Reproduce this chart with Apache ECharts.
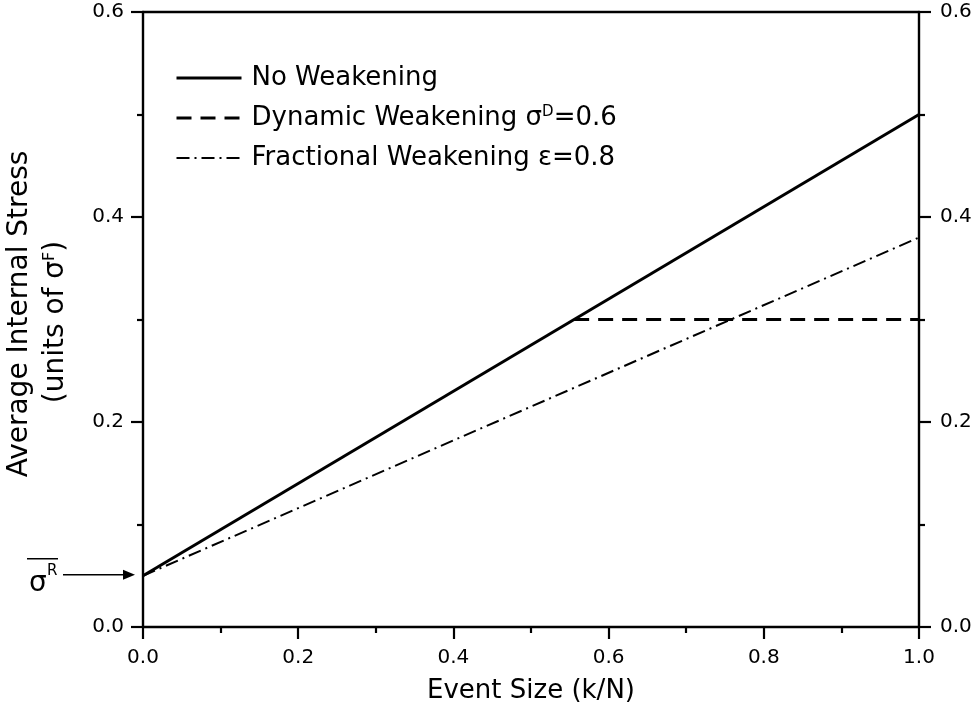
<!DOCTYPE html>
<html>
<head>
<meta charset="utf-8">
<script src="https://cdn.jsdelivr.net/npm/echarts@6/dist/echarts.min.js"></script>
<style>html,body{margin:0;padding:0;background:#fff}#c{width:975px;height:719px}</style>
</head>
<body>
<div id="c"></div>
<script>
// ---- data ----
var seriesNames = ['No Weakening', 'Dynamic Weakening', 'Fractional Weakening'];
var noWeakX = [0, 1.0];
var noWeakY = [0.05, 0.50];
var dynX = [0.5556, 1.0];
var dynY = [0.30, 0.30];
var fracX = [0, 1.0];
var fracY = [0.05, 0.38];
var xTicks = [0, 0.2, 0.4, 0.6, 0.8, 1.0];
var yTicks = [0, 0.2, 0.4, 0.6];
var sigmaRValue = 0.05;

function pairs(xs, ys) { return xs.map(function (x, i) { return [x, ys[i]]; }); }

var FONT = 'DejaVu Sans';
var chart = echarts.init(document.getElementById('c'), null, { renderer: 'canvas' });

function valAxis(pos, showLabel) {
  return {
    type: 'value', position: pos, min: 0,
    axisLine: { show: true, onZero: false, lineStyle: { color: '#000', width: 2.4 } },
    axisTick: { show: showLabel, inside: false, length: 12, lineStyle: { color: '#000', width: 2.2 } },
    minorTick: { show: showLabel, splitNumber: 2, length: 6, lineStyle: { color: '#000', width: 2.2 } },
    splitLine: { show: false },
    axisLabel: { show: showLabel, color: '#000', fontFamily: FONT, fontSize: 20, margin: 21,
      formatter: function (v) { return v.toFixed(1); } }
  };
}

var xb = valAxis('bottom', true); xb.max = 1.0; xb.interval = 0.2;
xb.name = 'Event Size (k/N)'; xb.nameLocation = 'middle'; xb.nameGap = 51;
xb.nameTextStyle = { color: '#000', fontFamily: FONT, fontSize: 26 };
var xt = valAxis('top', false); xt.max = 1.0; xt.interval = 0.2;
var yl = valAxis('left', true); yl.max = 0.6; yl.interval = 0.2;
yl.axisLabel.margin = 19;
var yr = valAxis('right', true); yr.max = 0.6; yr.interval = 0.2;

var lineStyles = [
  { color: '#000', width: 3, type: 'solid' },
  { color: '#000', width: 3, type: [15, 9] },
  { color: '#000', width: 2, type: [13, 5, 2, 5] }
];

var option = {
  backgroundColor: '#fff',
  animation: false,
  grid: { left: 143, right: 56, top: 12, bottom: 92, containLabel: false },
  xAxis: [xb, xt],
  yAxis: [yl, yr],
  legend: {
    left: 170, top: 60, orient: 'vertical',
    itemWidth: 65, itemHeight: 14, itemGap: 14,
    data: seriesNames.map(function (n, i) {
      return { name: n, lineStyle: lineStyles[i] };
    }),
    itemStyle: { color: 'rgba(0,0,0,0)', borderWidth: 0, opacity: 0 },
    textStyle: { color: '#000', fontFamily: FONT, fontSize: 26, padding: [0, 0, 0, 5],
      rich: {
        sup: { fontFamily: FONT, fontSize: 15, verticalAlign: 'top', color: '#000' },
        n: { fontFamily: FONT, fontSize: 26, color: '#000' }
      } },
    formatter: function (name) {
      if (name === 'Dynamic Weakening') return '{n|Dynamic Weakening σ}{sup|D}{n|=0.6}';
      if (name === 'Fractional Weakening') return '{n|Fractional Weakening ε=0.8}';
      return '{n|' + name + '}';
    }
  },
  series: [
    { name: seriesNames[0], type: 'line', data: pairs(noWeakX, noWeakY), symbol: 'none',
      lineStyle: lineStyles[0], itemStyle: { color: '#000' } },
    { name: seriesNames[1], type: 'line', data: pairs(dynX, dynY), symbol: 'none',
      lineStyle: lineStyles[1], itemStyle: { color: '#000' } },
    { name: seriesNames[2], type: 'line', data: pairs(fracX, fracY), symbol: 'none',
      lineStyle: lineStyles[2], itemStyle: { color: '#000' } }
  ]
};
chart.setOption(option);

var yPix = chart.convertToPixel({ yAxisIndex: 0 }, sigmaRValue);
var x0Pix = chart.convertToPixel({ xAxisIndex: 0 }, 0);
var tip = x0Pix - 8;

chart.setOption({
  graphic: [
    { type: 'text', x: 20, y: 314, rotation: Math.PI / 2,
      style: { text: 'Average Internal Stress', fontFamily: FONT, fontSize: 28, fill: '#000',
        align: 'center', verticalAlign: 'middle' } },
    { type: 'text', x: 56, y: 322, rotation: Math.PI / 2,
      style: { text: '{n|(units of σ}{sup|F}{n|)}', fontFamily: FONT, fontSize: 28, fill: '#000',
        align: 'center', verticalAlign: 'middle',
        rich: { n: { fontFamily: FONT, fontSize: 28, fill: '#000' },
                sup: { fontFamily: FONT, fontSize: 16, fill: '#000', verticalAlign: 'top' } } } },
    { type: 'text', x: 29, y: yPix + 8,
      style: { text: 'σ', fontFamily: FONT, fontSize: 28, fill: '#000', align: 'left', verticalAlign: 'middle' } },
    { type: 'text', x: 47, y: yPix - 5,
      style: { text: 'R', fontFamily: FONT, fontSize: 15, fill: '#000', align: 'left', verticalAlign: 'middle' } },
    { type: 'line', shape: { x1: 27, y1: yPix - 17, x2: 58, y2: yPix - 17 }, style: { stroke: '#000', lineWidth: 1.5 } },
    { type: 'line', shape: { x1: 63, y1: yPix - 1, x2: tip - 6, y2: yPix - 1 }, style: { stroke: '#000', lineWidth: 1.5 } },
    { type: 'polygon', shape: { points: [[tip, yPix - 1], [tip - 12, yPix - 6], [tip - 12, yPix + 4]] }, style: { fill: '#000' } }
  ]
});
</script>
</body>
</html>
